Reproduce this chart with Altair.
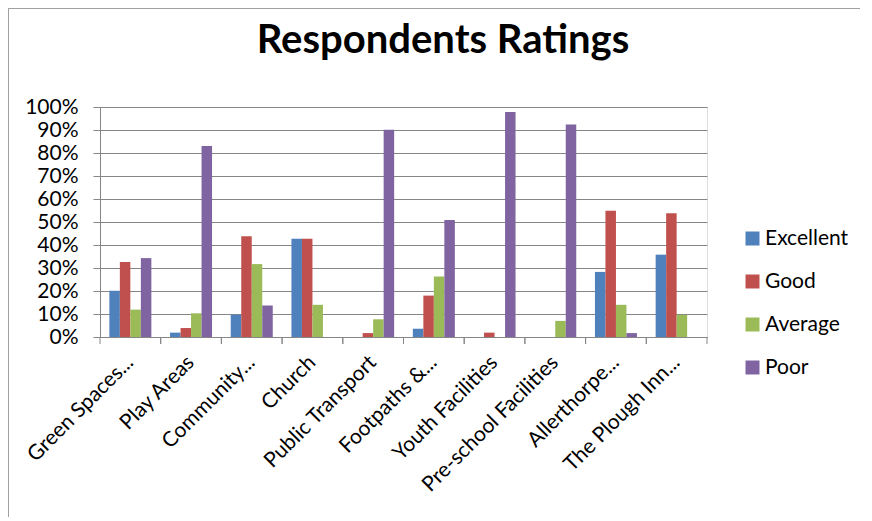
import altair as alt
import pandas as pd

categories = ["Green Spaces...", "Play Areas", "Community...", "Church", "Public Transport",
              "Footpaths &...", "Youth Facilities", "Pre-school Facilities", "Allerthorpe...",
              "The Plough Inn..."]
series = ["Excellent", "Good", "Average", "Poor"]
excellent = [20.1, 1.9, 9.7, 42.7, 0.0, 3.6, 0.0, 0.0, 28.3, 35.8]
good = [32.6, 3.9, 43.8, 42.7, 1.7, 18.0, 1.9, 0.0, 54.9, 53.8]
average = [11.9, 10.3, 31.7, 14.0, 7.7, 26.3, 0.0, 7.0, 14.0, 9.6]
poor = [34.3, 83.0, 13.7, 0.0, 90.1, 50.9, 97.8, 92.4, 1.7, 0.0]
colors = ["#4F81BD", "#C0504D", "#9BBB59", "#8064A2"]

rows = []
for name, vals in zip(series, [excellent, good, average, poor]):
    for c, v in zip(categories, vals):
        rows.append({"category": c, "rating": name, "value": v / 100.0})
df = pd.DataFrame(rows)
cat_df = pd.DataFrame({"category": categories})

FONT = "Lato"
GRID = "#868686"

xscale = alt.Scale(domain=categories, paddingInner=0, paddingOuter=0)

bars = alt.Chart(df).mark_bar().encode(
    x=alt.X("category:N", scale=xscale, sort=categories, title=None,
            axis=alt.Axis(labelAngle=-45, labelAlign="right", labelBaseline="middle",
                          ticks=False, labelPadding=22, labelFontSize=21, labelFont=FONT,
                          labelColor="#000000", domainColor=GRID, labelLimit=300)),
    xOffset=alt.XOffset("rating:N", sort=series,
                        scale=alt.Scale(domain=series, paddingInner=0, paddingOuter=0.89)),
    y=alt.Y("value:Q", scale=alt.Scale(domain=[0, 1], nice=False), title=None,
            axis=alt.Axis(format="%", values=[i / 10 for i in range(11)], tickSize=7,
                          tickColor=GRID, domainColor=GRID, gridColor=GRID, grid=True,
                          labelPadding=15, labelFontSize=21, labelFont=FONT,
                          labelColor="#000000")),
    color=alt.Color("rating:N", sort=series,
                    scale=alt.Scale(domain=series, range=colors),
                    legend=alt.Legend(title=None, orient="none", legendX=642, legendY=121,
                                      symbolType="square", symbolSize=196,
                                      symbolStrokeWidth=0, labelFontSize=21,
                                      labelFont=FONT, labelColor="#000000",
                                      rowPadding=21, labelOffset=2, padding=0)),
)

tick_start = alt.Chart(cat_df).mark_rule(color=GRID).encode(
    x=alt.X("category:N", scale=xscale, sort=categories, bandPosition=0),
    y=alt.value(230), y2=alt.value(237),
)
tick_end = alt.Chart(cat_df).mark_rule(color=GRID).encode(
    x=alt.X("category:N", scale=xscale, sort=categories, bandPosition=1),
    y=alt.value(230), y2=alt.value(237),
)

frame_left = alt.Chart(cat_df).mark_rule(color="#A0A0A0", strokeWidth=1).encode(
    x=alt.value(-91.5), y=alt.value(-98.5), y2=alt.value(410),
)
frame_top = alt.Chart(cat_df).mark_rule(color="#A0A0A0", strokeWidth=1).encode(
    x=alt.value(-91.5), x2=alt.value(760), y=alt.value(-98.5),
)

title = alt.Chart(pd.DataFrame({"t": ["Respondents Ratings"]})).mark_text(
    font=FONT, fontSize=40, fontWeight="bold", color="#000000",
    align="center", baseline="alphabetic",
).encode(text="t:N", x=alt.value(343), y=alt.value(-54))

chart = alt.layer(frame_left, frame_top, title, bars, tick_start, tick_end).properties(
    width=607, height=230, padding=0,
).configure_view(stroke=None).configure(background="#FFFFFF")

chart.save("out.html", embed_options={"renderer": "svg", "actions": False})
